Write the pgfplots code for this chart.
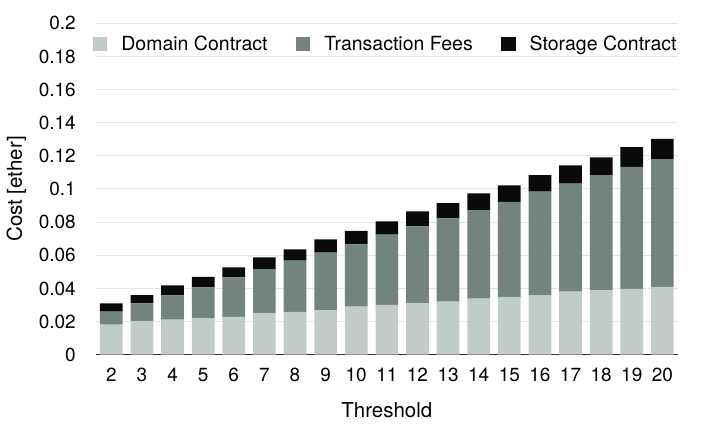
\documentclass[border=0pt]{standalone}
\usepackage{pgfplots}
\pgfplotsset{compat=1.18}
\usepackage{fontspec}
\setmainfont{TeX Gyre Heros}
\definecolor{cdom}{HTML}{C1CBC9}
\definecolor{ctx}{HTML}{728380}
\definecolor{cst}{HTML}{0A0A0C}
\definecolor{cgrid}{HTML}{E2E6E5}
\definecolor{caxis}{HTML}{333333}
\begin{document}
\begin{tikzpicture}
\useasboundingbox (-96pt,-68.3pt) rectangle (610pt,354.7pt);
\begin{axis}[
  at={(0,0)}, anchor=south west,
  scale only axis, width=581.7pt, height=331.4pt,
  ybar stacked, bar width=22.7pt,
  xmin=1.5, xmax=20.5, ymin=0, ymax=0.2,
  xtick={2,...,20}, ytick={0,0.02,...,0.201},
  axis x line*=bottom, axis y line*=left,
  y axis line style={draw=none},
  x axis line style={draw=caxis, line width=1.3pt},
  major tick length=0pt,
  ymajorgrids, grid style={cgrid, line width=1pt},
  /pgf/number format/assume math mode=true,
  /pgf/number format/fixed,
  yticklabel style={font=\fontsize{19}{23}\selectfont, inner sep=0pt, anchor=east, xshift=-20pt},
  xticklabel style={font=\fontsize{19}{23}\selectfont, inner sep=0pt, anchor=north, yshift=-13pt},
  xlabel={Threshold}, ylabel={Cost [ether]},
  xlabel style={font=\fontsize{20.5}{24}\selectfont, inner sep=0pt, at={(axis description cs:0.5,-0.1669)}, anchor=center},
  ylabel style={font=\fontsize{20.5}{24}\selectfont, inner sep=0pt, at={(axis description cs:-0.1367,0.5)}, anchor=center},
  legend columns=3,
  legend image code/.code={\fill[#1] (0pt,-7.2pt) rectangle (14.4pt,7.2pt);},
  legend style={draw=none, fill=none, inner sep=0pt, outer sep=0pt,
    font=\fontsize{19.5}{23}\selectfont,
    nodes={inner sep=0pt},
    at={(axis description cs:0,1)}, anchor=north west, xshift=-3pt, yshift=-12.7pt,
    /tikz/every odd column/.append style={column sep=14pt},
    /tikz/every even column/.append style={column sep=28.5pt}},
]
\addplot[fill=cdom, draw=none] coordinates {
(2,0.0181) (3,0.0202) (4,0.0211) (5,0.0221) (6,0.0229) (7,0.0250) (8,0.0258) (9,0.0268) (10,0.0290) (11,0.0300)
(12,0.0310) (13,0.0320) (14,0.0338) (15,0.0348) (16,0.0360) (17,0.0380) (18,0.0388) (19,0.0398) (20,0.0409)};
\addlegendentry{Domain Contract}
\addplot[fill=ctx, draw=none] coordinates {
(2,0.0079) (3,0.0108) (4,0.0147) (5,0.0186) (6,0.0238) (7,0.0267) (8,0.0309) (9,0.0348) (10,0.0376) (11,0.0424)
(12,0.0465) (13,0.0503) (14,0.0535) (15,0.0575) (16,0.0624) (17,0.0652) (18,0.0695) (19,0.0735) (20,0.0772)};
\addlegendentry{Transaction Fees}
\addplot[fill=cst, draw=none] coordinates {
(2,0.0050) (3,0.0050) (4,0.0061) (5,0.0062) (6,0.0060) (7,0.0071) (8,0.0069) (9,0.0080) (10,0.0081) (11,0.0081)
(12,0.0090) (13,0.0091) (14,0.0101) (15,0.0099) (16,0.0099) (17,0.0111) (18,0.0108) (19,0.0119) (20,0.0121)};
\addlegendentry{Storage Contract}
\end{axis}
\end{tikzpicture}
\end{document}
